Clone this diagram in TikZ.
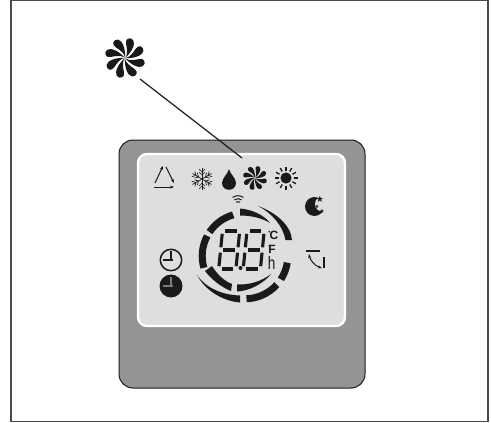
\documentclass[tikz,border=0pt]{standalone}
\usepackage{fontspec}
\setmainfont{Liberation Sans}
\newfontfamily\symfont{DejaVu Sans}
\usetikzlibrary{arrows.meta,positioning,calc}
\definecolor{framec}{HTML}{4A4A4A}
\definecolor{bodyc}{HTML}{959393}
\definecolor{lcdc}{HTML}{DEDEDE}
\definecolor{inkc}{HTML}{1A1A1A}
\tikzset{
  frameline/.style={draw=framec, line width=1.4pt},
  bodybox/.style={draw=inkc, line width=1pt, fill=bodyc, rounded corners=14pt},
  lcdbox/.style={draw=white, line width=2.4pt, fill=lcdc, rounded corners=9pt},
  leader/.style={draw=inkc, line width=1.2pt},
  seg/.style={draw=inkc, line width=7pt},
  dseg/.style={draw=inkc, line width=3.1pt},
  iconline/.style={draw=inkc, line width=1pt},
  unit/.style={text=inkc, inner sep=0pt, font=#1},
  starmark/.style={text=inkc, inner sep=0pt, font=\symfont\fontsize{#1}{#1}\selectfont},
  fanicon/.pic={
    \foreach \a in {0,45,...,315}
      \fill[inkc, rotate=\a] (.03,0) .. controls (.22,-.03) and (.38,-.22) .. (.55,-.48)
        .. controls (.68,-.68) and (.95,-.58) .. (.92,-.34)
        .. controls (.89,-.12) and (.40,.04) .. (.03,0);
  },
  clockhands/.pic={
    \draw[line width=1.3pt] (-8,0) -- (2,0) (0,-9) -- (0,1);
  }
}
% one digit of the display, #1 = left end, #2 = top
\newcommand{\lcddigit}[2]{
  \begin{scope}[shift={(#1,#2)}, xslant=.1]
    \draw[dseg] (2.8,0) -- (14.4,0);
    \draw[dseg] (2.8,19) -- (14.4,19);
    \draw[dseg] (2.8,38) -- (14.4,38);
    \draw[dseg] (0,2.8) -- (0,16.3);
    \draw[dseg] (0,21.7) -- (0,35.2);
    \draw[dseg] (17.2,2.8) -- (17.2,16.3);
    \draw[dseg] (17.2,21.7) -- (17.2,35.2);
  \end{scope}
}
\begin{document}
\begin{tikzpicture}[x=1pt,y=-1pt]
  \useasboundingbox (0,0) rectangle (491,423);
  \draw[frameline] (11,.7) rectangle (488,421.6);
  \draw[bodybox] (119,140) rectangle (365,388);
  \draw[lcdbox] (138,154) rectangle (345,326);

  \pic at (125,58) [scale=20] {fanicon};
  \coordinate (bigfan) at (140,79);
  \coordinate (lcdfan) at (242,158);
  \draw[leader] (bigfan) -- (lcdfan);

  % cycle
  \draw[iconline, -{Stealth[length=4pt]}] (154,187) -- (174,187);
  \draw[iconline, -{Stealth[length=4pt]}] (155,183) -- (163,166);
  \draw[iconline, -{Stealth[length=4pt]}] (166,167) -- (174,183);

  % snow
  \foreach \a in {0,60,120} {
    \begin{scope}[shift={(202,179)}, rotate=\a+30]
      \draw[inkc, line width=.7pt] (-11,0) -- (11,0);
      \foreach \s in {1,-1} {
        \draw[inkc, line width=.7pt] (\s*7,-3) -- (\s*4,0) -- (\s*7,3);
        \draw[inkc, line width=.7pt] (\s*10,-3) -- (\s*7,0) -- (\s*10,3);
      }
    \end{scope}
  }

  % drop
  \fill[inkc] (229,169) .. controls (228,174) and (222,178) .. (222,183)
    .. controls (222,192) and (236,192) .. (236,183)
    .. controls (236,178) and (230,174) .. (229,169);

  \pic at (255,178) [scale=12] {fanicon};

  % sun
  \fill[inkc] (286,178) circle (5.6);
  \foreach \a in {0,30,...,330}
    \draw[inkc, line width=1.3pt] ($(286,178)+(\a:7.5)$) -- ($(286,178)+(\a:11.5)$);

  % signal
  \begin{scope}[shift={(238,205)}, yscale=-1]
    \foreach \r in {3.3,6.3,9.3}
      \draw[inkc, line width=1pt] (55:\r) arc[start angle=55, end angle=125, radius=\r];
  \end{scope}

  % moon
  \fill[inkc] (314.5,206.5) circle (9.5);
  \fill[lcdc] (322.5,204) circle (7.5);
  \node[starmark=9] (starone) at (320,199) {★};
  \node[starmark=6] (startwo) at (322,211) {★};
  \node[starmark=5] (starthree) at (317,206.5) {★};

  % ring
  \begin{scope}[shift={(245,256)}, yscale=-1]
    \foreach \p/\q in {106/146,152/196,272/318,327/351}
      \draw[seg] (\p:42.8) arc[start angle=\p, end angle=\q, radius=42.8];
  \end{scope}
  \fill[inkc] (240,208.5) .. controls (252,209.5) and (264,215) .. (270,223)
    .. controls (262,218) and (251,215.5) .. (240,215.5) -- cycle;
  \fill[inkc] (258,206) .. controls (275,212) and (291,225) .. (292,240)
    -- (285.5,240) .. controls (283,226) and (272,213) .. (258,206) -- cycle;
  \fill[inkc] (197,275) .. controls (205,290) and (222,301) .. (240,302.5)
    -- (240,295.5) .. controls (222,295) and (206,288) .. (197,275) -- cycle;
  \fill[inkc] (237,284.5) .. controls (250,285) and (262,281) .. (271,274)
    .. controls (264,283) and (250,291) .. (237,291.5) -- cycle;
  \fill[inkc] (205,271) -- (212,266) .. controls (217,274) and (224,281) .. (232,284)
    -- (231,291) .. controls (221,287) and (211,279) .. (205,271) -- cycle;

  \lcddigit{222.5}{231}
  \lcddigit{247}{231}
  \fill[inkc] (240.5,268) circle (2);

  \node[unit={\fontsize{12}{12}\selectfont\bfseries}] (unitc) at (274,235.7) {C};
  \node[unit={\fontsize{12}{12}\selectfont\bfseries}] (unitf) at (272,249) {F};
  \node[unit={\fontsize{18}{18}\selectfont}, xscale=.75, transform shape] (unith) at (271.7,263) {h};
  \fill[inkc] (269.3,231.7) circle (.9) (269.3,245.7) circle (.9);

  % clocks
  \draw[inkc, line width=1.5pt] (171,260) circle (10.7);
  \pic[inkc] at (171,260) {clockhands};
  \fill[inkc] (171,286) circle (11.5);
  \pic[lcdc!50!inkc] at (171,286) {clockhands};

  % return
  \draw[inkc, line width=1.3pt] (306,251) -- (320,251);
  \draw[inkc, line width=2pt] (324,257) -- (324,268);
  \draw[iconline, {Stealth[length=4pt]}-{Stealth[length=4pt]}] (309,254) .. controls (310,260) and (315,266) .. (322,268);
\end{tikzpicture}
\end{document}
